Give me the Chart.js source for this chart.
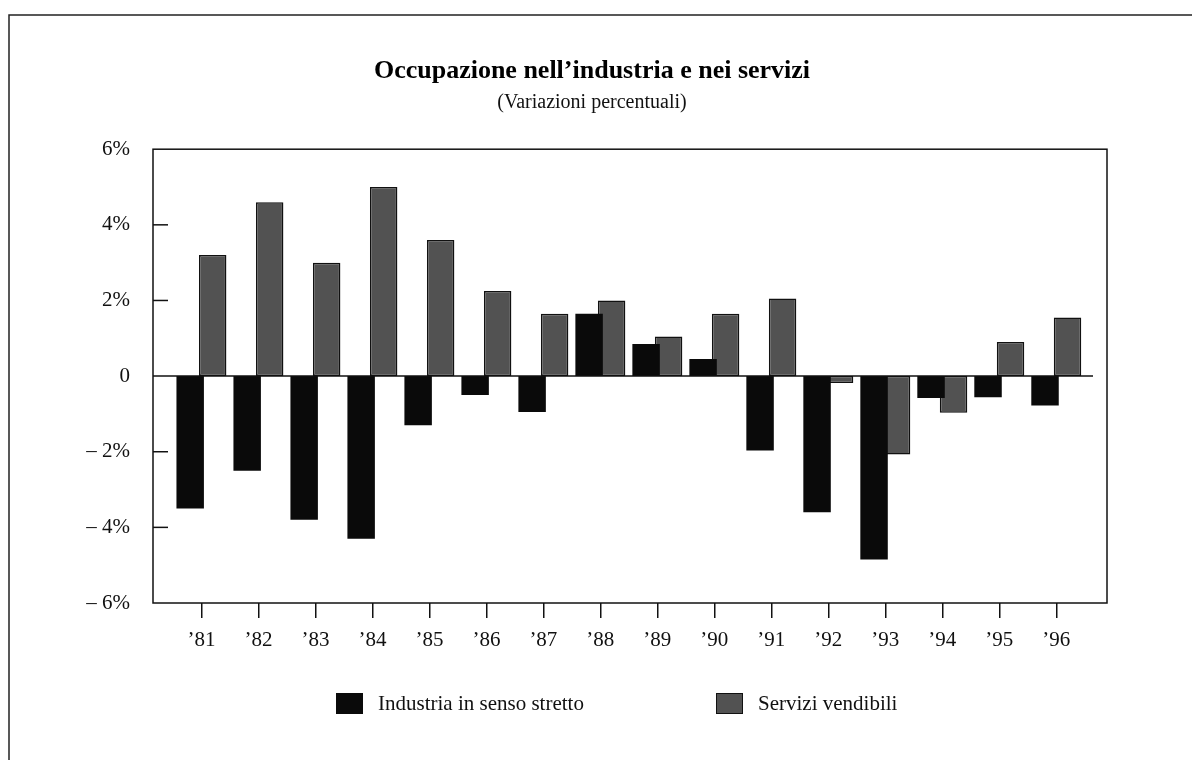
<!DOCTYPE html>
<html lang="it">
<head>
<meta charset="utf-8">
<title>Occupazione nell'industria e nei servizi</title>
<script src="https://cdn.jsdelivr.net/npm/chart.js@4.4.1/dist/chart.umd.min.js"></script>
<style>
  html, body { margin: 0; padding: 0; background: #fff; }
  canvas { display: block; }
</style>
</head>
<body>
<canvas id="grafico" width="1192" height="760"></canvas>
<script>
// anni (categorie)
const anni = ['’81', '’82', '’83', '’84', '’85', '’86', '’87', '’88', '’89', '’90', '’91', '’92', '’93', '’94', '’95', '’96'];

// variazioni percentuali
const industria = [-3.5, -2.5, -3.8, -4.3, -1.3, -0.5, -0.95, 1.65, 0.85, 0.45, -1.97, -3.6, -4.85, -0.58, -0.56, -0.78];
const servizi = [3.2, 4.6, 3.0, 5.0, 3.6, 2.25, 1.65, 2.0, 1.05, 1.65, 2.05, -0.18, -2.07, -0.97, 0.9, 1.55];

// tacche asse Y
const tickY = [6, 4, 2, 0, -2, -4, -6];

const FONT = '"Liberation Serif", "Times New Roman", serif';

// cornice esterna, riquadro del grafico, linea dello zero e tacche interne
const cornice = {
    id: 'cornice',
    beforeDraw(chart) {
        const ctx = chart.ctx;
        ctx.save();
        ctx.strokeStyle = '#222';
        ctx.lineWidth = 1.5;
        ctx.beginPath();
        ctx.moveTo(9, 760);
        ctx.lineTo(9, 15);
        ctx.lineTo(1192, 15);
        ctx.stroke();
        ctx.restore();
    },
    afterDatasetsDraw(chart) {
        const { ctx, chartArea: a, scales } = chart;
        const y0 = scales.y.getPixelForValue(0);
        ctx.save();
        ctx.strokeStyle = '#111';
        ctx.lineWidth = 1.5;
        ctx.strokeRect(a.left, a.top, a.right - a.left, a.bottom - a.top);

        ctx.beginPath();
        ctx.moveTo(a.left, y0);
        ctx.lineTo(a.right - 14, y0);
        ctx.stroke();

        // tacche verso l'interno
        tickY.filter(v => v !== 0 && Math.abs(v) !== 6).forEach(v => {
            const y = scales.y.getPixelForValue(v);
            ctx.beginPath();
            ctx.moveTo(a.left, y);
            ctx.lineTo(a.left + 15, y);
            ctx.stroke();
        });
        ctx.restore();
    }
};

// legenda disegnata a mano (spaziatura come nell'originale)
const legenda = {
    id: 'legenda',
    afterDraw(chart) {
        const ctx = chart.ctx;
        const posX = [336, 716];
        const top = 693;
        ctx.save();
        ctx.font = '21px ' + FONT;
        ctx.textBaseline = 'middle';
        chart.data.datasets.forEach((ds, i) => {
            ctx.fillStyle = ds.backgroundColor;
            ctx.fillRect(posX[i], top, 27, 21);
            if (ds.borderWidth) {
                ctx.strokeStyle = '#111';
                ctx.lineWidth = 1;
                ctx.strokeRect(posX[i] + 0.5, top + 0.5, 26, 20);
            }
            ctx.fillStyle = '#111';
            ctx.fillText(ds.label, posX[i] + 42, top + 11);
        });
        ctx.restore();
    }
};

const ctx = document.getElementById('grafico').getContext('2d');

new Chart(ctx, {
    type: 'bar',
    data: {
        datasets: [
            {
                label: 'Industria in senso stretto',
                data: industria.map((v, i) => ({ x: i, y: v })),
                backgroundColor: '#0a0a0a',
                borderWidth: 0
            },
            {
                label: 'Servizi vendibili',
                data: servizi.map((v, i) => ({ x: i, y: v })),
                backgroundColor: '#525252',
                borderColor: '#111',
                borderWidth: 1.5,
                borderSkipped: false
            }
        ]
    },
    options: {
        responsive: false,
        animation: false,
        categoryPercentage: 0.79,
        barPercentage: 1.22,
        layout: { padding: { top: 0, left: 77, right: 85, bottom: 107 } },
        plugins: {
            legend: { display: false },
            tooltip: { enabled: false },
            title: {
                display: true,
                text: 'Occupazione nell’industria e nei servizi',
                color: '#000',
                font: { family: FONT, size: 26, weight: 'bold' },
                padding: { top: 56, bottom: 2 }
            },
            subtitle: {
                display: true,
                text: '(Variazioni percentuali)',
                color: '#111',
                font: { family: FONT, size: 20 },
                padding: { top: 2, bottom: 34 }
            }
        },
        scales: {
            x: {
                type: 'linear',
                offset: false,
                min: -0.85,
                max: anni.length - 1 + 0.89,
                afterBuildTicks: scale => {
                    scale.ticks = anni.map((_, i) => ({ value: i }));
                },
                afterFit: scale => { scale.height = 50; },
                border: { display: false },
                grid: {
                    offset: false,
                    drawOnChartArea: false,
                    drawTicks: true,
                    tickLength: 15,
                    color: '#111',
                    lineWidth: 1.5
                },
                ticks: {
                    color: '#111',
                    font: { family: FONT, size: 21 },
                    padding: 10,
                    maxRotation: 0,
                    autoSkip: false,
                    callback: v => anni[v]
                }
            },
            y: {
                min: -6,
                max: 6,
                afterBuildTicks: scale => {
                    scale.ticks = tickY.map(v => ({ value: v }));
                },
                afterFit: scale => { scale.width = 76; },
                border: { display: false },
                grid: { display: false, drawTicks: false },
                ticks: {
                    color: '#111',
                    font: { family: FONT, size: 21 },
                    padding: 23,
                    callback: v => v === 0 ? '0' : (v < 0 ? '– ' + Math.abs(v) + '%' : v + '%')
                }
            }
        }
    },
    plugins: [cornice, legenda]
});
</script>
</body>
</html>
